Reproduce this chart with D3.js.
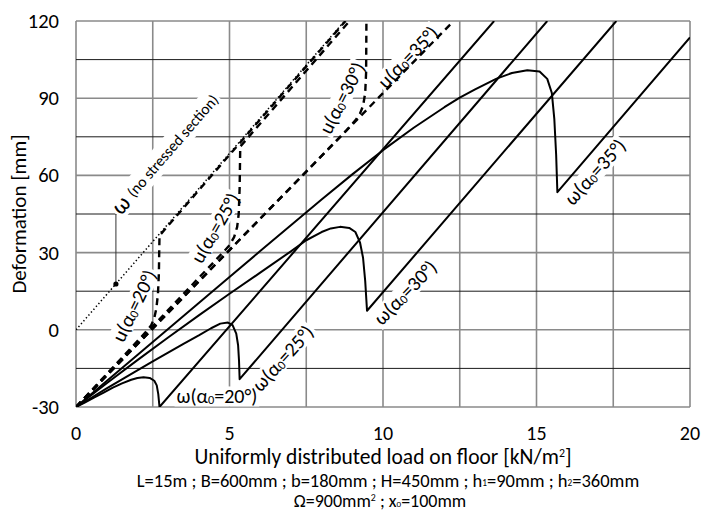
<!DOCTYPE html>
<html><head><meta charset="utf-8">
<script src="https://cdn.jsdelivr.net/npm/d3@7"></script>
<style>body{margin:0;background:#fff}svg{display:block}</style>
</head><body>
<script>
// ---------- data ----------
const xTicks = [0, 5, 10, 15, 20];
const yTicks = [-30, 0, 30, 60, 90, 120];
const xGrid = [0, 2.5, 5, 7.5, 10, 12.5, 15, 17.5, 20];
const yGrid = [-30, -15, 0, 15, 30, 45, 60, 75, 90, 105, 120];

// omega for section without stress (straight line through origin)
const omegaNSS = [[0, 0], [8.75, 120]];
const omegaNSSMarker = [1.3, 17.8];
const omegaNSSLeaderTop = 45;

const omega20 = [[0,-30],[0.3,-28.2],[0.6,-26.3],[0.9,-24.4],[1.2,-22.5],[1.5,-20.8],[1.8,-19.4],[2.0,-18.7],[2.2,-18.4],[2.4,-18.7],[2.55,-19.8],[2.63,-21.6],[2.68,-25],[2.72,-30],[13.62,120]];
const omega25 = [[0,-30],[0.5,-26.4],[1,-22.8],[1.5,-19.3],[2,-15.8],[2.5,-12.3],[3,-8.9],[3.5,-5.5],[4,-2.2],[4.4,0.6],[4.7,2.4],[4.95,2.8],[5.1,1.8],[5.22,-1.5],[5.28,-6],[5.31,-12],[5.33,-19.2],[15.35,120]];
const omega30 = [[0,-30],[1,-20.8],[2,-11.8],[3,-3],[4,5.6],[5,14],[6,22.2],[7,30.5],[7.5,34.8],[8,38],[8.3,39.4],[8.6,40],[8.9,39.6],[9.1,38],[9.25,34],[9.35,28],[9.42,19],[9.48,7.4],[17.6,120]];
const omega35 = [[0,-30],[1,-19.9],[2,-9.8],[3,0.3],[4,10.4],[5,20.5],[6,30.6],[7,40.6],[8,50.6],[9,60.4],[10,69.8],[11,78.5],[12,86.5],[12.5,90.2],[13,93.4],[13.7,97.6],[14.2,99.8],[14.7,100.9],[15.1,100.4],[15.35,97.5],[15.5,92],[15.58,82],[15.64,68],[15.68,53.5],[20,113.6]];

const u20 = [[0,-30],[0.5,-23.6],[1,-17.2],[1.5,-10.8],[2,-4.4],[2.3,-0.5],[2.45,1.8],[2.55,4.6],[2.62,8.5],[2.67,14],[2.7,22],[2.71,30],[2.72,36.6],[8.78,120]];
const u25 = [[0,-30],[1,-17.45],[2,-4.9],[3,7.65],[4,20.2],[4.8,30.2],[5.0,32.9],[5.15,36],[5.25,40],[5.3,45],[5.33,55],[5.35,71.2],[8.91,120]];
const u30 = [[0,-30],[2,-5.6],[4,18.8],[6,43.2],[8,67.6],[8.8,77.4],[9.1,81.4],[9.25,84],[9.35,87],[9.42,92],[9.45,100],[9.46,120]];
const u35 = [[0,-30],[12.3,120]];

// annotation texts
const labelTexts = {
  nss: "ω (no stressed section)",
  u20: "u(α0=20°)", u25: "u(α0=25°)", u30: "u(α0=30°)", u35: "u(α0=35°)",
  w20: "ω(α0=20°)", w25: "ω(α0=25°)", w30: "ω(α0=30°)", w35: "ω(α0=35°)"
};
const yTitle = "Deformation [mm]";
const xTitle = ["Uniformly distributed load on floor [kN/m", "2", "]"];
const note1 = ["L=15m ; B=600mm ; b=180mm ; H=450mm ; h", "1", "=90mm ; h", "2", "=360mm"];
const note2 = ["Ω=900mm", "2", " ; x", "0", "=100mm"];

// ---------- drawing ----------
const W = 702, H = 512;
const FONT = "Carlito, Calibri, 'Open Sans', sans-serif";
const svg = d3.select("body").append("svg").attr("width", W).attr("height", H)
  .style("font-family", FONT);

const x = d3.scaleLinear().domain([0, 20]).range([76, 690]);
const y = d3.scaleLinear().domain([-30, 120]).range([407, 21]);

const gGrid = svg.append("g");
const gBg = svg.append("g");
svg.append("clipPath").attr("id", "clip").append("rect")
  .attr("x", x(0)).attr("y", y(120)).attr("width", x(20) - x(0)).attr("height", y(-30) - y(120));
const gCurves = svg.append("g").attr("clip-path", "url(#clip)");
const gLab = svg.append("g");

// grid
gGrid.selectAll("line.v").data(xGrid).join("line")
  .attr("x1", d => x(d)).attr("x2", d => x(d)).attr("y1", y(-30)).attr("y2", y(120))
  .attr("stroke", "#8a8a8a").attr("stroke-width", 1.6);
gGrid.selectAll("line.h").data(yGrid).join("line")
  .attr("x1", x(0)).attr("x2", x(20)).attr("y1", d => y(d)).attr("y2", d => y(d))
  .attr("stroke", d => (d % 30 === 0) ? "#8a8a8a" : "#1a1a1a")
  .attr("stroke-width", d => (d % 30 === 0) ? 1.6 : 1);

// curves
const line = d3.line().x(d => x(d[0])).y(d => y(d[1]));
const solid = {stroke: "#000", w: 2, dash: null};
const dashed = {stroke: "#000", w: 2.4, dash: "7,5"};
function draw(data, st) {
  gCurves.append("path").datum(data).attr("d", line).attr("fill", "none")
    .attr("stroke", st.stroke).attr("stroke-width", st.w)
    .attr("stroke-dasharray", st.dash).attr("stroke-linejoin", "round");
}
gCurves.append("path").datum(omegaNSS).attr("d", line).attr("fill", "none")
  .attr("stroke", "#000").attr("stroke-width", 1.5).attr("stroke-dasharray", "1.4,2.4");
[omega20, omega25, omega30, omega35].forEach(d => draw(d, solid));
[u35, u30, u25, u20].forEach(d => draw(d, dashed));

gCurves.append("line").attr("x1", x(omegaNSSMarker[0])).attr("x2", x(omegaNSSMarker[0]))
  .attr("y1", y(omegaNSSMarker[1])).attr("y2", y(omegaNSSLeaderTop))
  .attr("stroke", "#333").attr("stroke-width", 1);
gCurves.append("circle").attr("cx", x(omegaNSSMarker[0])).attr("cy", y(omegaNSSMarker[1]))
  .attr("r", 2.6).attr("fill", "#000");

function addLabel(str, cx, cy, angle, size, opts = {}) {
  const g = gLab.append("g").attr("transform", `translate(${cx},${cy}) rotate(${angle})`);
  const t = g.append("text").attr("text-anchor", "middle").attr("dominant-baseline", "central")
    .attr("font-size", size).attr("fill", "#000");
  if (opts.nss) {
    t.append("tspan").text(str.slice(0, 1)).attr("font-size", size * 1.5);
    t.append("tspan").text(str.slice(1)).attr("font-size", size).attr("dx", 2);
  } else {
    const i = str.indexOf("0");
    t.append("tspan").text(str.slice(0, i));
    t.append("tspan").text("0").attr("font-size", size * 0.62).attr("baseline-shift", "-25%");
    t.append("tspan").text(str.slice(i + 1));
  }
  const bb = t.node().getBBox();
  gBg.append("rect").attr("transform", `translate(${cx},${cy}) rotate(${angle})`)
    .attr("x", bb.x - 2).attr("y", bb.y + 2).attr("width", bb.width + 4).attr("height", bb.height - 4)
    .attr("fill", "#fff");
}
const LS = 20;
addLabel(labelTexts.nss, x(2.9), y(68.5), -49, 15.5, {nss: true});
addLabel(labelTexts.u20, x(1.89), y(9.4), -64, LS);
addLabel(labelTexts.u25, x(4.53), y(39.6), -60, LS);
addLabel(labelTexts.u30, x(8.66), y(90.1), -63, LS);
addLabel(labelTexts.u35, x(10.81), y(106), -46, LS);
addLabel(labelTexts.w20, x(4.59), y(-25.9), 0, LS);
addLabel(labelTexts.w25, x(6.73), y(-11), -48, LS);
addLabel(labelTexts.w30, x(10.72), y(14.5), -46, LS);
addLabel(labelTexts.w35, x(16.9), y(61.4), -48, LS);

const TS = 20.5;
svg.append("g").selectAll("text").data(yTicks).join("text")
  .attr("x", 59).attr("y", d => y(d)).attr("text-anchor", "end").attr("dominant-baseline", "central")
  .attr("font-size", TS).text(d => d);
svg.append("g").selectAll("text").data(xTicks).join("text")
  .attr("x", d => x(d)).attr("y", 433).attr("text-anchor", "middle").attr("dominant-baseline", "central")
  .attr("font-size", 20).text(d => d);

svg.append("text").attr("transform", `translate(19,${(y(-30) + y(120)) / 2}) rotate(-90)`)
  .attr("text-anchor", "middle").attr("dominant-baseline", "central").attr("font-size", 21).text(yTitle);

function richLine(parts, cx, cy, size, kinds) {
  const t = svg.append("text").attr("x", cx).attr("y", cy).attr("text-anchor", "middle")
    .attr("dominant-baseline", "central").attr("font-size", size);
  parts.forEach((p, i) => {
    const s = t.append("tspan").text(p);
    if (kinds[i] === "sup") s.attr("font-size", size * 0.55).attr("baseline-shift", "35%");
    if (kinds[i] === "sub") s.attr("font-size", size * 0.5).attr("baseline-shift", "-25%");
  });
}
richLine(xTitle, 383, 457, 21.5, ["", "sup", ""]);
richLine(note1, 388, 479.5, 18.5, ["", "sub", "", "sub", ""]);
richLine(note2, 380, 501, 18, ["", "sup", "", "sub", ""]);
</script>
</body></html>
